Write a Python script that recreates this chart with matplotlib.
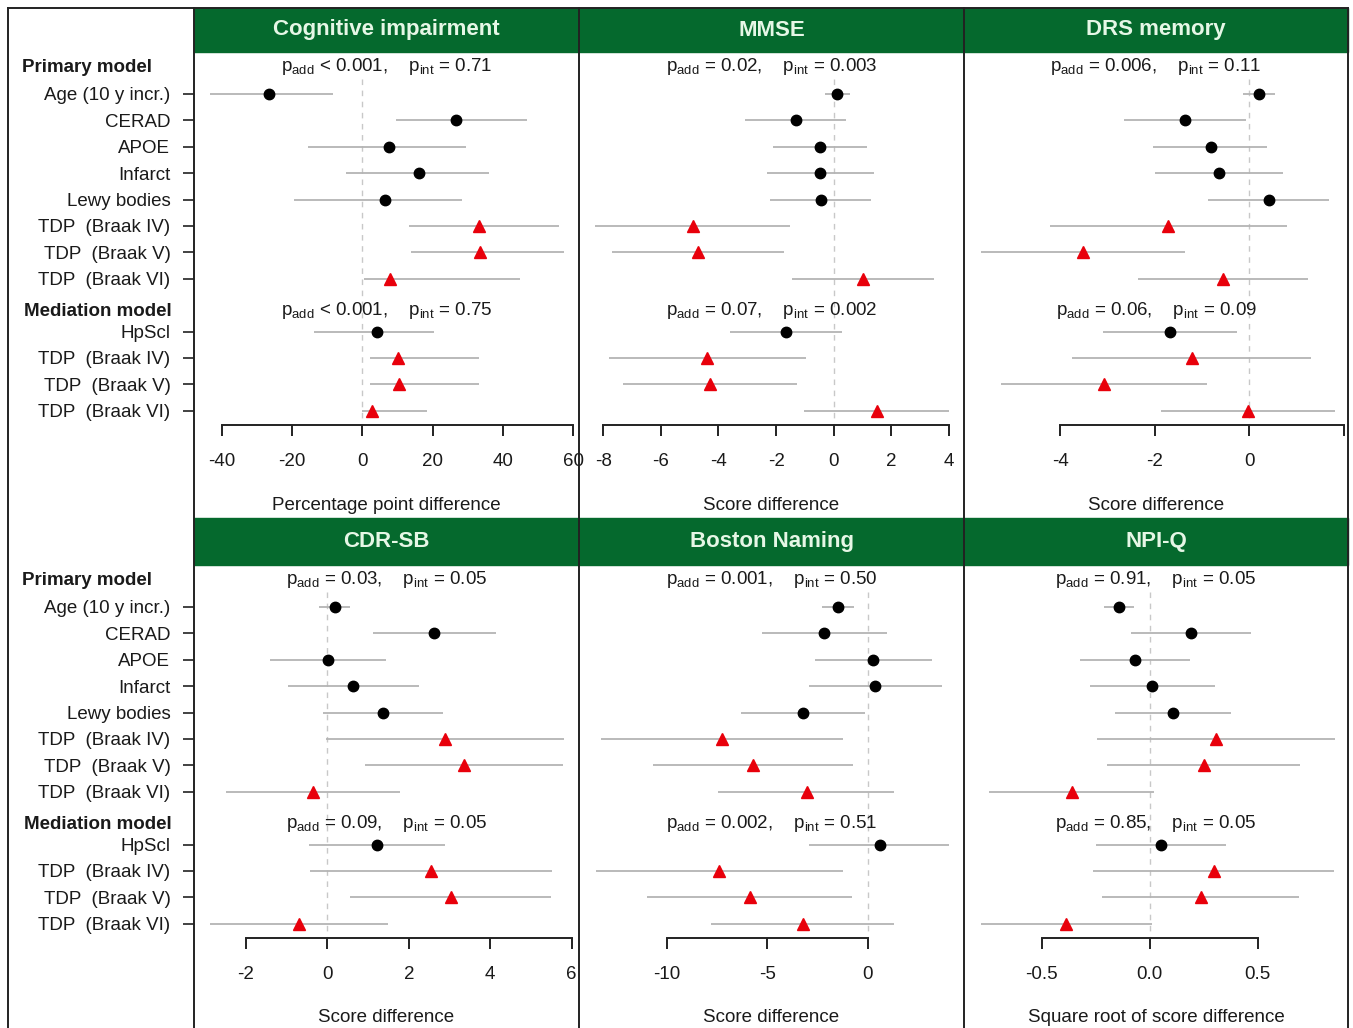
# Forest plots: TDP-43 / Braak stage effects on six outcomes

import numpy as np
import matplotlib
matplotlib.use('Agg')
from matplotlib import pyplot as plt
from matplotlib import transforms
from matplotlib.lines import Line2D
from matplotlib.patches import Rectangle

plt.rcParams['font.family'] = ['Liberation Sans', 'DejaVu Sans']
plt.rcParams['mathtext.fontset'] = 'custom'
plt.rcParams['mathtext.rm'] = 'Liberation Sans'
plt.rcParams['axes.unicode_minus'] = False

labels = ['Age (10 y incr.)', 'CERAD', 'APOE', 'Infarct', 'Lewy bodies',
          'TDP  (Braak IV)', 'TDP  (Braak V)', 'TDP  (Braak VI)',
          'HpScl', 'TDP  (Braak IV)', 'TDP  (Braak V)', 'TDP  (Braak VI)']
rows = [1, 2, 3, 4, 5, 6, 7, 8, 10, 11, 12, 13]
is_tdp = [False, False, False, False, False, True, True, True,
          False, True, True, True]

titles = ['Cognitive impairment', 'MMSE', 'DRS memory',
          'CDR-SB', 'Boston Naming', 'NPI-Q']
xlabels = ['Percentage point difference', 'Score difference', 'Score difference',
           'Score difference', 'Score difference', 'Square root of score difference']
p_primary = [('<', '0.001', '0.71'), ('=', '0.02', '0.003'), ('=', '0.006', '0.11'),
             ('=', '0.03', '0.05'), ('=', '0.001', '0.50'), ('=', '0.91', '0.05')]
p_mediation = [('<', '0.001', '0.75'), ('=', '0.07', '0.002'), ('=', '0.06', '0.09'),
               ('=', '0.09', '0.05'), ('=', '0.002', '0.51'), ('=', '0.85', '0.05')]

# estimate, lower, upper (same order as labels)
cog_est = [-26.6, 26.8, 7.7, 16.2, 6.3, 33.2, 33.6, 7.8, 4.1, 10.0, 10.5, 2.7]
cog_lo = [-43.4, 9.5, -15.5, -4.8, -19.4, 13.3, 13.8, 0.4, -13.9, 2.1, 2.2, 0.0]
cog_hi = [-8.3, 46.8, 29.6, 36.1, 28.4, 56.0, 57.5, 44.9, 20.4, 33.2, 33.1, 18.4]

mmse_est = [0.12, -1.32, -0.47, -0.46, -0.45, -4.88, -4.71, 1.02, -1.64, -4.41, -4.29, 1.50]
mmse_lo = [-0.31, -3.07, -2.11, -2.30, -2.20, -8.28, -7.70, -1.44, -3.59, -7.80, -7.31, -1.03]
mmse_hi = [0.56, 0.44, 1.16, 1.38, 1.31, -1.53, -1.74, 3.47, 0.30, -0.98, -1.27, 4.0]

drs_est = [0.20, -1.35, -0.82, -0.64, 0.41, -1.71, -3.51, -0.56, -1.67, -1.22, -3.07, -0.03]
drs_lo = [-0.13, -2.65, -2.04, -2.0, -0.87, -4.21, -5.67, -2.35, -3.10, -3.74, -5.25, -1.87]
drs_hi = [0.54, -0.06, 0.38, 0.72, 1.68, 0.80, -1.35, 1.25, -0.27, 1.30, -0.90, 1.81]

cdr_est = [0.18, 2.62, 0.01, 0.64, 1.37, 2.88, 3.35, -0.35, 1.21, 2.55, 3.04, -0.70]
cdr_lo = [-0.21, 1.13, -1.40, -0.96, -0.11, -0.04, 0.92, -2.48, -0.44, -0.42, 0.55, -2.89]
cdr_hi = [0.56, 4.14, 1.44, 2.24, 2.85, 5.81, 5.78, 1.78, 2.88, 5.51, 5.50, 1.50]

bnt_est = [-1.49, -2.16, 0.27, 0.35, -3.20, -7.23, -5.72, -3.03, 0.60, -7.38, -5.85, -3.23]
bnt_lo = [-2.26, -5.26, -2.60, -2.94, -6.29, -13.28, -10.70, -7.43, -2.90, -13.52, -10.96, -7.79]
bnt_hi = [-0.68, 0.95, 3.18, 3.68, -0.13, -1.21, -0.71, 1.33, 4.06, -1.24, -0.78, 1.31]

npi_est = [-0.144, 0.193, -0.066, 0.012, 0.110, 0.306, 0.250, -0.361, 0.054, 0.296, 0.236, -0.386]
npi_lo = [-0.213, -0.085, -0.321, -0.278, -0.162, -0.242, -0.198, -0.744, -0.247, -0.262, -0.221, -0.781]
npi_hi = [-0.074, 0.468, 0.185, 0.304, 0.378, 0.856, 0.698, 0.019, 0.355, 0.852, 0.690, 0.011]

ests = [cog_est, mmse_est, drs_est, cdr_est, bnt_est, npi_est]
los = [cog_lo, mmse_lo, drs_lo, cdr_lo, bnt_lo, npi_lo]
his = [cog_hi, mmse_hi, drs_hi, cdr_hi, bnt_hi, npi_hi]

ticks = [[-40, -20, 0, 20, 40, 60], [-8, -6, -4, -2, 0, 2, 4], [-4, -2, 0, 2],
         [-2, 0, 2, 4, 6], [-10, -5, 0], [-0.5, 0.0, 0.5]]
ticklabels = [['-40', '-20', '0', '20', '40', '60'],
              ['-8', '-6', '-4', '-2', '0', '2', '4'],
              ['-4', '-2', '0', ''],
              ['-2', '0', '2', '4', '6'],
              ['-10', '-5', '0'],
              ['-0.5', '0.0', '0.5']]
xlims = [(-47.98, 61.7), (-8.84, 4.52), (-6.03, 2.085),
         (-3.277, 6.18), (-14.36, 4.79), (-0.860, 0.918)]

W, H = 1353, 1028
fig = plt.figure(figsize=(W / 100, H / 100), dpi=100)
green = '#05692d'
dark = '#222222'

xs = [194, 579, 964, 1348]
head_top = [8, 518]
head_bot = [52, 565]
axis_y = [425, 938]
xlab_y = [505, 1017]

y_est = np.array(rows)
tdp = np.array(is_tdp)

for i in range(6):
    r, c = divmod(i, 3)
    x0, x1 = xs[c], xs[c + 1]
    ax = fig.add_axes([x0 / W, 1 - axis_y[r] / H, (x1 - x0) / W,
                       (axis_y[r] - head_bot[r]) / H])
    ax.set_xlim(*xlims[i])
    ax.set_ylim(13.54, -0.59)

    est = np.array(ests[i])
    ax.vlines(0, 0.45, 13.5, colors='#c8c8c8', linestyles=(0, (4, 4)), lw=1)
    ax.hlines(y_est, los[i], his[i], colors='#b4b4b4', lw=1.3)
    ax.plot(est[~tdp], y_est[~tdp], 'o', color='black', ms=7.5)
    ax.plot(est[tdp], y_est[tdp], '^', color='#e8000b', ms=9)

    for s in ['top', 'right', 'left']:
        ax.spines[s].set_visible(False)
    ax.spines['bottom'].set_bounds(ticks[i][0], ticks[i][-1])
    ax.spines['bottom'].set_linewidth(1.4)
    ax.spines['bottom'].set_color(dark)
    ax.set_xticks(ticks[i])
    ax.set_xticklabels(ticklabels[i])
    ax.tick_params(axis='x', direction='out', length=8, width=1.4, color=dark,
                   pad=12, labelsize=13.5, labelcolor='#1a1a1a')

    if c == 0:
        ax.set_yticks(rows)
        ax.set_yticklabels(labels)
        ax.tick_params(axis='y', direction='out', length=8, width=1.3, color='#333333',
                       pad=9, labelsize=13.5, labelcolor='#1a1a1a')
        tr = transforms.blended_transform_factory(fig.transFigure, ax.transData)
        ax.text(22 / W, 0, 'Primary model', transform=tr, ha='left', va='center',
                fontsize=13.5, fontweight='bold', color='#1a1a1a')
        ax.text(24 / W, 9.25, 'Mediation model', transform=tr, ha='left', va='center',
                fontsize=13.5, fontweight='bold', color='#1a1a1a')
    else:
        ax.set_yticks([])

    trp = transforms.blended_transform_factory(ax.transAxes, ax.transData)
    for yy, p in [(-0.05, p_primary[i]), (9.2, p_mediation[i])]:
        txt = (r'$\mathrm{p}_{\mathrm{add}}$' + ' %s %s,    ' % (p[0], p[1]) +
               r'$\mathrm{p}_{\mathrm{int}}$' + ' = %s' % p[2])
        ax.text(0.5, yy, txt, transform=trp, ha='center', va='center',
                fontsize=13.5, color='#1a1a1a')

    # header bar
    fig.add_artist(Rectangle((x0 / W, 1 - head_bot[r] / H), (x1 - x0) / W,
                             (head_bot[r] - head_top[r]) / H,
                             transform=fig.transFigure, color=green, zorder=1))
    fig.text((x0 + x1) / 2 / W, 1 - (head_top[r] + head_bot[r]) / 2 / H, titles[i],
             ha='center', va='center', fontsize=16, fontweight='bold', color='#e6f7e6')
    fig.text((x0 + x1) / 2 / W, 1 - xlab_y[r] / H, xlabels[i],
             ha='center', va='center', fontsize=13.5, color='#1a1a1a')

# frame lines
for x in [8] + xs:
    fig.add_artist(Line2D([x / W, x / W], [1 - 8 / H, 0], color=dark, lw=1.4))
fig.add_artist(Line2D([8 / W, 1348 / W], [1 - 8 / H, 1 - 8 / H], color=dark, lw=1.4))

fig.savefig('out.png', dpi=100, facecolor='white')
